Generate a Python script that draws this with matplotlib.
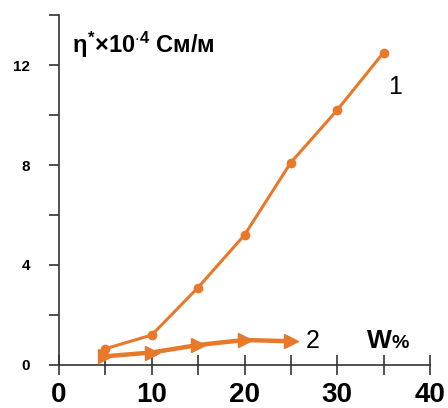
import matplotlib
matplotlib.use("Agg")
import matplotlib.pyplot as plt
from matplotlib.ticker import MultipleLocator

plt.rcParams['font.family'] = ['Liberation Sans', 'DejaVu Sans']
plt.rcParams['mathtext.fontset'] = 'custom'
plt.rcParams['mathtext.rm'] = 'Liberation Sans:bold'
plt.rcParams['mathtext.bf'] = 'Liberation Sans:bold'
plt.rcParams['mathtext.it'] = 'Liberation Sans:bold'

w = [5, 10, 15, 20, 25, 30, 35]
eta1 = [0.65, 1.2, 3.1, 5.2, 8.1, 10.2, 12.5]
w2 = [5, 10, 15, 20, 25]
eta2 = [0.35, 0.5, 0.8, 1.0, 0.95]

color = '#E8782A'

fig = plt.figure(figsize=(4.48, 4.08), dpi=100)
ax = fig.add_axes([59/448, 43/408, 371/448, 350/408])
ax.plot(w, eta1, color=color, lw=2.2, marker='o', ms=6)
ax.plot(w2, eta2, color=color, lw=3.2, marker='>', ms=10)
ax.set_xlim(0, 40)
ax.set_ylim(0, 14)
ax.spines['right'].set_visible(False)
ax.spines['top'].set_visible(False)
ax.spines['left'].set_linewidth(1.2)
ax.spines['bottom'].set_linewidth(1.2)
ax.spines['left'].set_color('#333333')
ax.spines['bottom'].set_color('#333333')
ax.xaxis.set_major_locator(MultipleLocator(10))
ax.xaxis.set_minor_locator(MultipleLocator(5))
ax.yaxis.set_major_locator(MultipleLocator(4))
ax.yaxis.set_minor_locator(MultipleLocator(2))
ax.tick_params(axis='x', which='both', direction='inout', length=14, width=1.2, color='#333333')
ax.tick_params(axis='x', which='major', labelsize=20, pad=5)
ax.tick_params(axis='y', which='both', direction='out', length=7, width=1.2, color='#333333')
ax.tick_params(axis='y', which='major', labelsize=11, pad=14)
for lab in ax.get_xticklabels() + ax.get_yticklabels():
    lab.set_fontweight('bold')

ax.text(0.035, 0.915, r"$\eta^{*}$×10$^{\cdot 4}$ См/м", transform=ax.transAxes,
        fontsize=17, fontweight='bold', ha='left', va='center')
ax.text(0.905, 0.795, "1", transform=ax.transAxes, fontsize=18, ha='center', va='center')
ax.text(0.683, 0.068, "2", transform=ax.transAxes, fontsize=18, ha='center', va='center')
ax.text(0.897, 0.068, "W", transform=ax.transAxes, fontsize=19, fontweight='bold', ha='right', va='center')
ax.text(0.897, 0.062, "%", transform=ax.transAxes, fontsize=14, fontweight='bold', ha='left', va='center')

fig.savefig("out.png", dpi=100)
